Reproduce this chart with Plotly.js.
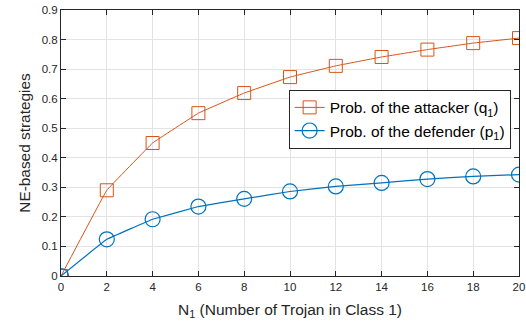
<!DOCTYPE html>
<html>
<head>
<meta charset="utf-8">
<script src="https://cdn.plot.ly/plotly-3.0.1.min.js"></script>
<style>html,body{margin:0;padding:0;background:#fff;}#chart{width:526px;height:323px;}</style>
</head>
<body>
<div id="chart"></div>
<script>
var N1 = [0, 2, 4, 6, 8, 10, 12, 14, 16, 18, 20];
var attackerQ1 = [0, 0.29, 0.45, 0.551, 0.619, 0.673, 0.711, 0.741, 0.766, 0.788, 0.805];
var defenderP1 = [0, 0.124, 0.192, 0.235, 0.261, 0.286, 0.303, 0.315, 0.328, 0.337, 0.343];
var xTicks = [0, 2, 4, 6, 8, 10, 12, 14, 16, 18, 20];
var yTicks = [0, 0.1, 0.2, 0.3, 0.4, 0.5, 0.6, 0.7, 0.8, 0.9];
var names = ['Prob. of the attacker (q<sub>1</sub>)', 'Prob. of the defender (p<sub>1</sub>)'];

var font = '"Liberation Sans", Arial, Helvetica, sans-serif';
var traces = [
  {x: N1, y: attackerQ1, name: names[0], type: 'scatter', mode: 'lines+markers',
   line: {color: '#D95319', width: 1, shape: 'spline', smoothing: 0.12},
   marker: {symbol: 'square-open', size: 13, color: '#D95319', line: {width: 1, color: '#D95319'}}},
  {x: N1, y: defenderP1, name: names[1], type: 'scatter', mode: 'lines+markers',
   line: {color: '#0072BD', width: 1.2, shape: 'spline', smoothing: 0.12},
   marker: {symbol: 'circle-open', size: 15, color: '#0072BD', line: {width: 1.2, color: '#0072BD'}}}
];
var axisCommon = {
  showline: true, linecolor: '#262626', linewidth: 1, mirror: 'ticks',
  ticks: 'inside', ticklen: 5, tickcolor: '#262626', tickwidth: 1,
  showgrid: true, gridcolor: '#e3e3e3', gridwidth: 1, zeroline: false,
  tickfont: {family: font, size: 11.5, color: '#262626'}
};
var layout = {
  width: 526, height: 323,
  margin: {l: 61, r: 7, t: 10, b: 47},
  paper_bgcolor: '#fff', plot_bgcolor: '#fff',
  showlegend: true,
  legend: {x: 0.497, y: 0.70, xanchor: 'left', yanchor: 'top',
    bgcolor: '#fff', bordercolor: '#262626', borderwidth: 1,
    font: {family: font, size: 15.5, color: '#000'}, tracegroupgap: 0, itemwidth: 30},
  xaxis: Object.assign({}, axisCommon, {range: [0, 20], tickvals: xTicks, ticktext: xTicks.map(String),
    title: {text: 'N<sub>1</sub> (Number of Trojan in Class 1)', font: {family: font, size: 15.5, color: '#262626'}, standoff: 12}}),
  yaxis: Object.assign({}, axisCommon, {range: [0, 0.9], tickvals: yTicks, ticktext: yTicks.map(function(v){return String(v);}),
    title: {text: 'NE-based strategies', font: {family: font, size: 15.4, color: '#262626'}, standoff: 7}})
};
Plotly.newPlot('chart', traces, layout, {displayModeBar: false, staticPlot: true});
</script>
</body>
</html>
